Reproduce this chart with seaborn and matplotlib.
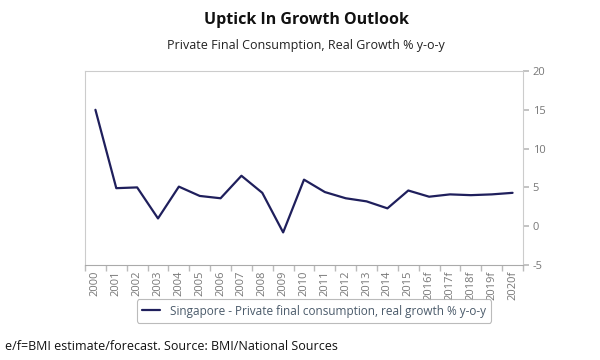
import numpy as np
import pandas as pd
import matplotlib
matplotlib.use("Agg")
import matplotlib.pyplot as plt
import seaborn as sns

# Data
years = ["2000", "2001", "2002", "2003", "2004", "2005", "2006", "2007", "2008",
         "2009", "2010", "2011", "2012", "2013", "2014", "2015", "2016f",
         "2017f", "2018f", "2019f", "2020f"]
growth = [15.0, 4.9, 5.0, 1.0, 5.1, 3.9, 3.6, 6.5, 4.3, -0.8, 6.0, 4.4, 3.6,
          3.2, 2.3, 4.6, 3.8, 4.1, 4.0, 4.1, 4.3]
series_name = "Singapore - Private final consumption, real growth % y-o-y"

df = pd.DataFrame({"year": years, "growth": growth})
df["pos"] = np.arange(len(years))

sns.set_theme(style="white")
plt.rcParams["font.family"] = ["Open Sans", "DejaVu Sans"]
plt.rcParams["axes.unicode_minus"] = False

fig = plt.figure(figsize=(6, 3.6), dpi=100)
ax = fig.add_axes([85 / 600, 1 - 265 / 360, 438 / 600, 194 / 360])

sns.lineplot(data=df, x="pos", y="growth", ax=ax, color="#1f1f5c",
             linewidth=1.6, label=series_name, legend=False)

ax.set_xlim(-0.5, len(years) - 0.5)
ax.set_ylim(-5, 20)
ax.set_yticks([-5, 0, 5, 10, 15, 20])
ax.yaxis.tick_right()
ax.tick_params(axis="y", which="both", direction="out", length=4,
               color="#bbbbbb", labelsize=8, labelcolor="#777777", pad=3,
               left=False, right=True)

# category labels at centres, tick marks at boundaries
ax.set_xticks(df["pos"])
ax.set_xticklabels(years, rotation=90, fontsize=8, color="#777777")
ax.tick_params(axis="x", which="major", length=0, pad=4)
ax.set_xticks(np.arange(len(years) + 1) - 0.5, minor=True)
ax.tick_params(axis="x", which="minor", direction="out", length=4,
               color="#bbbbbb", bottom=True)
ax.set_xlabel("")
ax.set_ylabel("")

for side in ["left", "right", "top", "bottom"]:
    ax.spines[side].set_color("#cccccc")
    ax.spines[side].set_linewidth(0.8)
ax.spines["bottom"].set_color("#aaaaaa")

handles, labels = ax.get_legend_handles_labels()
leg = fig.legend(handles, labels, loc="center", bbox_to_anchor=(314 / 600, 1 - 311 / 360),
                 fontsize=8.5, frameon=True, fancybox=True, handlelength=1.5,
                 borderpad=0.45, labelcolor="#4a5a6a")
leg.get_frame().set_edgecolor("#aaaaaa")
leg.get_frame().set_linewidth(0.8)

fig.text(0.51, 1 - 20 / 360, "Uptick In Growth Outlook", ha="center", va="center",
         fontsize=11.5, fontweight="bold", color="#111111")
fig.text(0.51, 1 - 45 / 360, "Private Final Consumption, Real Growth % y-o-y",
         ha="center", va="center", fontsize=9, color="#222222")
fig.text(5 / 600, 1 - 347 / 360, "e/f=BMI estimate/forecast. Source: BMI/National Sources",
         ha="left", va="center", fontsize=9, color="#111111")

fig.savefig("out.png", dpi=100)
